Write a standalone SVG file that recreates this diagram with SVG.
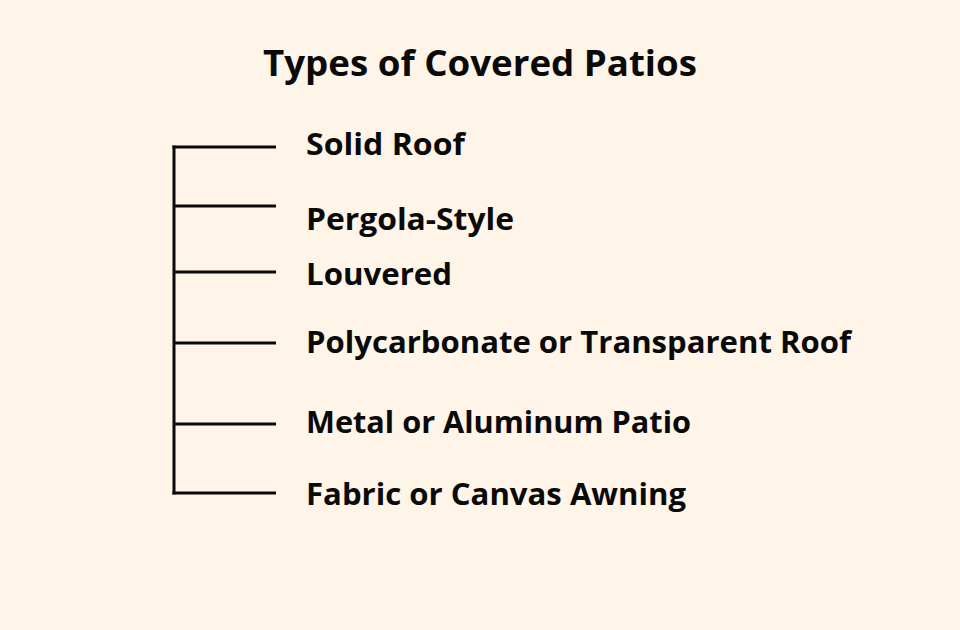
<svg xmlns="http://www.w3.org/2000/svg" width="960" height="630" viewBox="0 0 960 630">
<style>
.t{font-family:"Open Sans","Noto Sans","Liberation Sans",sans-serif;font-weight:700;fill:#0a0a0a}
.title{font-size:35px}
.item{font-size:31px}
.c{stroke:#0a0a0a;stroke-width:3;fill:none}
</style>
<rect width="960" height="630" fill="#fef5e8"/>
<g id="title"><text class="t title" x="263" y="76" textLength="434" lengthAdjust="spacingAndGlyphs">Types of Covered Patios</text></g>
<g id="connectors">
<path class="c" d="M174 145.5V494.5"/>
<path class="c" d="M172.5 147H276M174 206H276M174 272H276M174 343H276M174 424H276M172.5 493H276"/>
</g>
<g id="n1"><text class="t item" x="306" y="155" textLength="159" lengthAdjust="spacingAndGlyphs">Solid Roof</text></g>
<g id="n2"><text class="t item" x="306" y="230" textLength="208" lengthAdjust="spacingAndGlyphs">Pergola-Style</text></g>
<g id="n3"><text class="t item" x="306" y="285" textLength="146" lengthAdjust="spacingAndGlyphs">Louvered</text></g>
<g id="n4"><text class="t item" x="306" y="353" textLength="545" lengthAdjust="spacingAndGlyphs">Polycarbonate or Transparent Roof</text></g>
<g id="n5"><text class="t item" x="306" y="433" textLength="385" lengthAdjust="spacingAndGlyphs">Metal or Aluminum Patio</text></g>
<g id="n6"><text class="t item" x="306" y="505" textLength="380" lengthAdjust="spacingAndGlyphs">Fabric or Canvas Awning</text></g>
</svg>
